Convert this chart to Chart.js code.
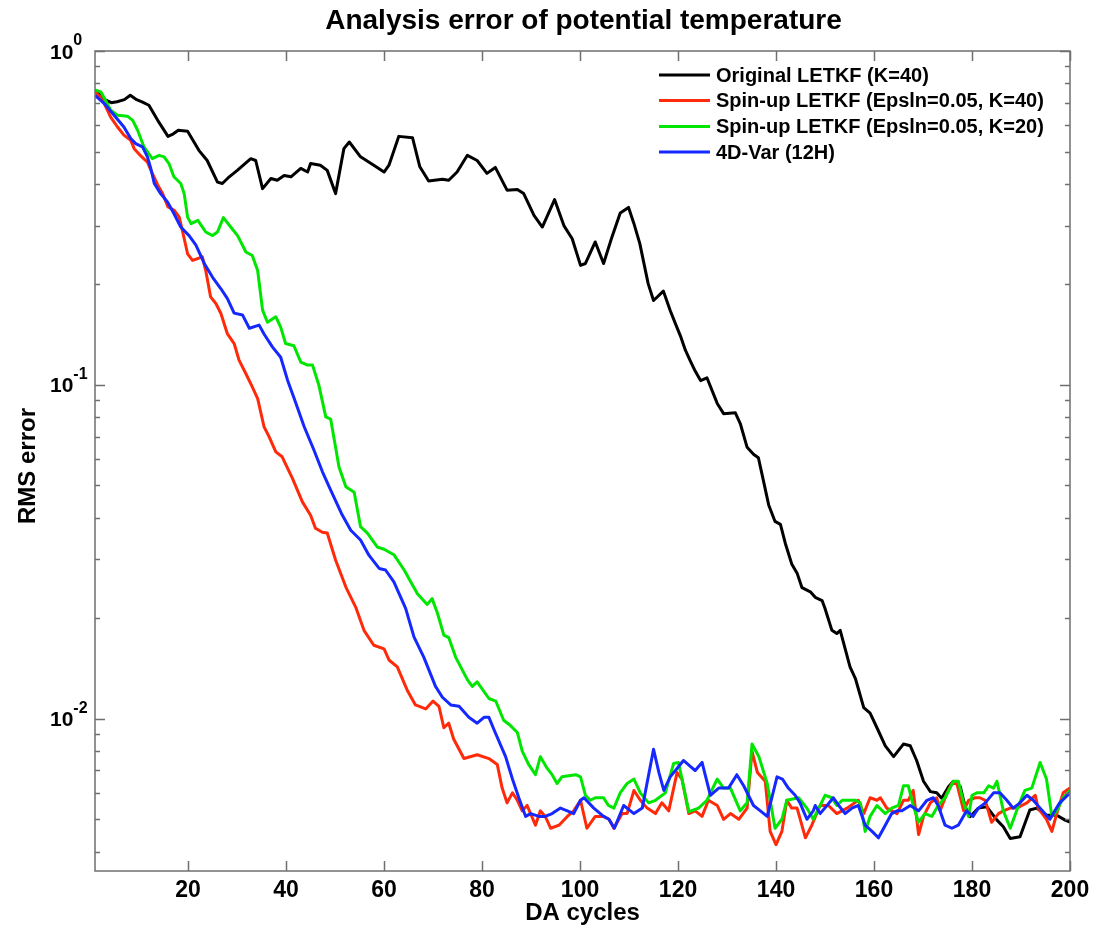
<!DOCTYPE html>
<html>
<head>
<meta charset="utf-8">
<script src="https://cdn.jsdelivr.net/npm/chart.js@4/dist/chart.umd.min.js"></script>
<style>
html,body{margin:0;padding:0;background:#fff;}
canvas{display:block;}
</style>
</head>
<body>
<canvas id="c" width="1093" height="928"></canvas>
<script>
// ---- chart text ----
const chartTitle = "Analysis error of potential temperature";
const xTitle = "DA cycles";
const yTitle = "RMS error";
const seriesLabels = ["Original LETKF (K=40)", "Spin-up LETKF (Epsln=0.05, K=40)", "Spin-up LETKF (Epsln=0.05, K=20)", "4D-Var (12H)"];
const xTickValues = [20, 40, 60, 80, 100, 120, 140, 160, 180, 200];
const yMajorTicks = [1, 0.1, 0.01];
const yMajorExp = ["0", "-1", "-2"];

// ---- series values: [DA cycle, RMS error] ----
const originalLETKF = [[1,0.76],[2,0.74],[3,0.715],[4.3,0.70],[5.5,0.705],[7,0.715],[8.2,0.737],[9.5,0.715],[10.7,0.703],[12,0.688],[13.8,0.62],[15.9,0.555],[17,0.565],[18,0.579],[19.9,0.575],[22.2,0.504],[23.9,0.47],[26,0.405],[27,0.401],[28.4,0.42],[30.1,0.44],[32.8,0.476],[33.8,0.47],[35.2,0.387],[36.9,0.415],[38.2,0.41],[39.6,0.424],[41,0.42],[43,0.445],[44.4,0.434],[45,0.46],[47,0.455],[48.4,0.439],[50.1,0.374],[51.8,0.51],[52.9,0.534],[55.2,0.482],[57.9,0.455],[60,0.434],[61,0.455],[63,0.555],[65.8,0.55],[67.3,0.45],[69.1,0.408],[71.9,0.413],[73.2,0.41],[74.9,0.434],[77,0.487],[79,0.47],[81,0.43],[82.7,0.448],[85.1,0.383],[87.2,0.385],[88.5,0.374],[90.6,0.322],[92.3,0.297],[94.8,0.359],[96.7,0.30],[98.4,0.274],[100.1,0.228],[101.1,0.231],[103.1,0.268],[104.8,0.231],[106.5,0.277],[108.2,0.327],[109.9,0.34],[111,0.304],[112.2,0.265],[113.9,0.201],[115,0.179],[117,0.191],[118.4,0.167],[119.5,0.152],[120.5,0.14],[121.5,0.127],[122.5,0.118],[123.5,0.11],[124.6,0.103],[125.9,0.105],[128,0.088],[129.3,0.082],[131.7,0.0825],[132.7,0.0766],[134.1,0.065],[135.4,0.062],[136.4,0.0605],[137.1,0.0543],[138.5,0.0437],[139.8,0.039],[140.9,0.0382],[141.9,0.0335],[143.2,0.0291],[144.3,0.0273],[145.3,0.0247],[147,0.024],[148,0.0231],[149.4,0.0226],[150,0.0214],[151.4,0.0184],[152.4,0.018],[153.1,0.0184],[155.1,0.0143],[156.2,0.0132],[157.9,0.0108],[159.2,0.0104],[160.6,0.0094],[162.3,0.0083],[164,0.0077],[166,0.0084],[167.4,0.0083],[168.7,0.0075],[170.1,0.0065],[171.5,0.00605],[172.8,0.006],[173.8,0.00578],[175.2,0.00626],[176.2,0.0065],[177.6,0.00626],[178.6,0.00545],[179.6,0.00509],[181.3,0.0054],[183,0.00545],[185.1,0.00497],[186.4,0.00475],[187.8,0.00438],[189.8,0.00443],[191.8,0.00533],[193.2,0.0054],[195.2,0.00514],[197.3,0.00514],[199,0.00497],[200,0.0049]];

const spinupK40 = [[1,0.755],[2,0.73],[2.9,0.696],[4.2,0.634],[5.6,0.592],[6.9,0.56],[8.3,0.54],[9,0.51],[10.4,0.484],[11.7,0.465],[12.7,0.43],[13.8,0.397],[14.8,0.374],[15.9,0.341],[17.1,0.334],[18.2,0.318],[18.9,0.287],[19.9,0.247],[20.9,0.236],[22,0.239],[22.9,0.242],[23.6,0.22],[24.6,0.1834],[25.7,0.175],[26.7,0.1636],[28,0.1425],[29.4,0.133],[30.4,0.1186],[31.8,0.108],[33.1,0.0986],[34.2,0.091],[35.5,0.0749],[36.5,0.0701],[37.9,0.063],[39.2,0.0609],[41.3,0.0525],[43.3,0.0447],[45,0.0407],[46,0.0372],[47.4,0.0362],[48.4,0.036],[50.1,0.0299],[52.2,0.0248],[54.2,0.0216],[55.9,0.0184],[57.9,0.0166],[60,0.0162],[61,0.015],[62.7,0.0143],[64.7,0.0122],[66.4,0.011],[68.5,0.0107],[70,0.0113],[71.2,0.0109],[72.2,0.0094],[73.2,0.0097],[74.2,0.0087],[76.3,0.0076],[79,0.0078],[81.4,0.0076],[83.1,0.0073],[84.1,0.0062],[85.1,0.0056],[86.2,0.006],[87.2,0.0057],[88.2,0.0053],[89.2,0.0055],[90.9,0.0048],[91.9,0.0053],[92.9,0.0051],[94,0.0047],[95.7,0.0048],[97.4,0.0051],[98.7,0.0053],[100.1,0.0057],[101.4,0.0047],[103.1,0.0051],[104.8,0.0051],[105.9,0.005],[106.9,0.0047],[108.6,0.0052],[109.6,0.0052],[111,0.0061],[112.3,0.0057],[113.7,0.0054],[115.4,0.0052],[116.7,0.0056],[118.1,0.0053],[119.8,0.0069],[120.8,0.0066],[122.2,0.0052],[123.5,0.0053],[124.9,0.0051],[126.2,0.0057],[128,0.0055],[129.3,0.005],[130.7,0.0052],[132.4,0.005],[134.1,0.0054],[135.1,0.008],[136.2,0.0069],[137.8,0.0065],[138.8,0.0046],[140,0.0042],[141.2,0.0046],[142.2,0.0057],[143.2,0.0054],[144.3,0.0054],[146,0.0044],[147.3,0.0048],[149,0.0055],[150.7,0.0055],[152.4,0.0052],[154.5,0.0054],[156.8,0.0057],[157.9,0.0052],[159.2,0.0058],[160.6,0.0057],[161.3,0.0058],[162.6,0.0054],[164.7,0.0052],[166,0.0057],[167,0.0057],[168,0.0061],[169.1,0.0045],[170.1,0.0051],[171.5,0.0056],[172.8,0.0058],[173.5,0.0053],[174.9,0.006],[175.9,0.0064],[176.9,0.0064],[178.3,0.0053],[179.3,0.0057],[180.6,0.0058],[181.6,0.0058],[182.7,0.0057],[184,0.0049],[185.4,0.0052],[186.4,0.0053],[187.8,0.0054],[189.1,0.0054],[191.2,0.0056],[192.9,0.0059],[193.5,0.0054],[195.2,0.005],[196.3,0.0046],[197.3,0.0052],[198.6,0.006],[200,0.0062]];

const spinupK20 = [[1,0.765],[2.2,0.754],[3.2,0.71],[4.2,0.665],[5.6,0.642],[7.6,0.638],[8.7,0.62],[9.7,0.579],[11,0.516],[12.7,0.476],[14.1,0.487],[15.1,0.482],[16.1,0.46],[17.1,0.42],[18.5,0.401],[19.2,0.374],[19.9,0.318],[20.6,0.304],[22,0.311],[23.6,0.287],[25,0.28],[26,0.287],[27.2,0.317],[28.7,0.297],[30.1,0.28],[31.8,0.25],[33.1,0.244],[34.2,0.22],[35.2,0.1674],[36.2,0.154],[37.9,0.16],[38.9,0.149],[39.9,0.133],[41.6,0.131],[43,0.117],[44.4,0.1146],[45.4,0.1146],[46.7,0.0997],[48.1,0.0802],[49.1,0.079],[50.8,0.0568],[52.2,0.0495],[53.9,0.0477],[55.2,0.0376],[56.6,0.036],[58.6,0.0327],[60,0.0322],[62,0.031],[64.1,0.0279],[66.8,0.0237],[68.8,0.022],[69.8,0.0229],[70.9,0.0207],[72.2,0.0178],[73.2,0.0175],[74.6,0.0153],[77,0.0131],[78,0.0125],[79,0.0129],[81.4,0.0115],[82.8,0.0113],[84.4,0.0099],[85.6,0.0096],[87.2,0.0091],[88.2,0.008],[89.5,0.0073],[90.9,0.0068],[91.9,0.0077],[93.3,0.0071],[94.3,0.0068],[95.3,0.0064],[96.3,0.0067],[99.1,0.0068],[100.1,0.0067],[101.1,0.0059],[102.1,0.0057],[103.1,0.0058],[104.8,0.0058],[105.8,0.0055],[106.9,0.0054],[108.2,0.006],[109.6,0.0064],[111,0.0066],[112.3,0.006],[114,0.0056],[115.4,0.0057],[117.4,0.006],[119.1,0.00735],[120.1,0.0074],[122.2,0.00527],[124.2,0.0054],[125.9,0.0057],[128,0.0066],[129.3,0.0062],[130.7,0.0062],[132.7,0.0053],[134.1,0.0056],[135.1,0.0084],[136.5,0.0077],[138.2,0.0064],[139.8,0.0047],[141.2,0.005],[142.2,0.0057],[144.6,0.0058],[146.3,0.0054],[147.6,0.005],[149,0.0055],[150,0.0059],[151.4,0.0058],[152.4,0.0055],[153.5,0.0057],[154.8,0.0057],[156.2,0.0057],[157.2,0.0056],[158.2,0.0046],[159.2,0.0051],[160.6,0.0055],[162.3,0.0052],[163.6,0.0054],[165,0.0055],[166,0.0063],[167,0.0063],[168,0.0055],[169.1,0.0049],[170.4,0.0052],[171.8,0.0051],[173.1,0.0055],[174.5,0.0058],[176.2,0.0065],[177.2,0.0065],[178.3,0.0056],[179.3,0.0051],[180,0.0059],[181,0.006],[182.4,0.006],[183.4,0.0063],[184.4,0.0062],[185.1,0.0065],[186.4,0.0053],[187.8,0.0047],[189.5,0.0055],[190.8,0.0061],[192.2,0.0062],[193.9,0.0074],[195.2,0.0066],[196.3,0.0051],[197.3,0.0053],[198.6,0.0058],[200,0.0061]];

const fourDVar = [[1,0.737],[2.9,0.696],[4.9,0.642],[6.9,0.592],[8.3,0.547],[9.3,0.528],[10.7,0.516],[11.7,0.482],[12.4,0.444],[13.1,0.401],[14.4,0.374],[15.8,0.353],[17.1,0.326],[18.5,0.297],[20.2,0.28],[21.6,0.262],[23.3,0.231],[25,0.21],[26.7,0.194],[28,0.1815],[29.4,0.164],[31.1,0.162],[32.5,0.1478],[34.5,0.151],[35.5,0.142],[37.2,0.13],[38.9,0.121],[40.3,0.1033],[41.6,0.0915],[43.7,0.0749],[45.7,0.0637],[47.4,0.055],[48.8,0.0495],[51.3,0.0412],[53.2,0.0367],[55.2,0.0343],[56.9,0.0309],[59,0.0282],[60.3,0.0279],[62,0.0257],[64.4,0.0214],[66.1,0.0176],[68.1,0.0153],[70.5,0.0125],[71.9,0.0116],[73.6,0.011],[75.3,0.0109],[77.3,0.0101],[79,0.0097],[80.4,0.0101],[81.4,0.0101],[82.4,0.0093],[84.8,0.0077],[86.2,0.0066],[87.5,0.0058],[88.9,0.0051],[89.9,0.0052],[91.6,0.0051],[92.9,0.0051],[94.3,0.0052],[96,0.0054],[97.4,0.0053],[98.7,0.0052],[100.1,0.0057],[100.8,0.0058],[102.8,0.0054],[104.8,0.0051],[105.9,0.005],[107,0.0047],[108.9,0.0055],[111,0.0052],[112.7,0.0054],[115,0.0081],[116.1,0.0069],[117.1,0.0061],[118.4,0.0067],[119.8,0.0071],[121.1,0.0075],[122.5,0.0072],[123.5,0.007],[124.9,0.0074],[126.6,0.0059],[128.3,0.0062],[130.3,0.0062],[132,0.0068],[133.4,0.0063],[135.4,0.0055],[136.8,0.0053],[138.2,0.0051],[140.2,0.0067],[141.3,0.0066],[142.5,0.0062],[143.9,0.0059],[144.9,0.0056],[146.3,0.005],[147.6,0.0053],[148,0.0055],[149,0.0052],[150.4,0.0055],[151.7,0.0058],[152.8,0.0055],[154.1,0.0052],[155.5,0.0054],[156.8,0.0055],[158.2,0.0048],[159.6,0.0046],[160.9,0.0044],[162.3,0.0048],[163.6,0.0052],[164.7,0.0053],[165.7,0.0053],[167.4,0.0055],[169.1,0.0053],[170.8,0.0057],[172.1,0.0058],[173.1,0.0055],[174.5,0.0048],[175.9,0.0047],[177.2,0.0048],[178.9,0.0053],[180.2,0.0051],[181.3,0.0054],[182.7,0.0056],[184.4,0.006],[185.7,0.006],[187.1,0.0057],[188.4,0.0054],[189.8,0.0056],[191.2,0.0059],[192.5,0.0057],[193.9,0.0054],[195.9,0.005],[196.9,0.0053],[197.9,0.0056],[200,0.006]];

const seriesColors = ["#000000", "#ff2a0a", "#00e600", "#1428ff"];

const FONT = '"Liberation Sans", Arial, Helvetica, sans-serif';
const toXY = arr => arr.map(p => ({x: p[0], y: p[1]}));

const axesPlugin = {
  id: 'axesDecor',
  afterDraw(chart) {
    const ctx = chart.ctx;
    const a = chart.chartArea;
    const xs = chart.scales.x, ys = chart.scales.y;
    ctx.save();
    // frame
    ctx.strokeStyle = '#6f6f6f';
    ctx.lineWidth = 1.5;
    ctx.strokeRect(a.left, a.top, a.right - a.left, a.bottom - a.top);
    // x ticks (bottom & top, inward)
    ctx.beginPath();
    xTickValues.forEach(v => {
      const px = Math.round(xs.getPixelForValue(v)) + 0.5;
      ctx.moveTo(px, a.bottom); ctx.lineTo(px, a.bottom - 10);
      ctx.moveTo(px, a.top); ctx.lineTo(px, a.top + 10);
    });
    // y ticks (major & minor, left & right, inward)
    for (let e = -3; e <= 0; e++) {
      for (let m = 1; m <= 9; m++) {
        const v = m * Math.pow(10, e);
        if (v < ys.min - 1e-12 || v > ys.max + 1e-12) continue;
        const py = Math.round(ys.getPixelForValue(v)) + 0.5;
        const len = (m === 1) ? 10 : 5;
        ctx.moveTo(a.left, py); ctx.lineTo(a.left + len, py);
        ctx.moveTo(a.right, py); ctx.lineTo(a.right - len, py);
      }
    }
    ctx.stroke();

    ctx.fillStyle = '#000';
    // x tick labels
    ctx.font = 'bold 23px ' + FONT;
    ctx.textAlign = 'center';
    ctx.textBaseline = 'alphabetic';
    xTickValues.forEach(v => {
      ctx.fillText(String(v), xs.getPixelForValue(v), 897);
    });
    // y tick labels 10^n
    yMajorTicks.forEach((v, i) => {
      const py = ys.getPixelForValue(v);
      ctx.textAlign = 'left';
      ctx.font = 'bold 21px ' + FONT;
      ctx.fillText('10', 50, py + 7.5);
      const w = ctx.measureText('10').width;
      ctx.font = 'bold 16px ' + FONT;
      ctx.fillText(yMajorExp[i], 50 + w, py - 6);
    });
    // title
    ctx.textAlign = 'center';
    ctx.font = 'bold 28px ' + FONT;
    ctx.fillText(chartTitle, (a.left + a.right) / 2 + 1, 29);
    // x title
    ctx.font = 'bold 24px ' + FONT;
    ctx.fillText(xTitle, (a.left + a.right) / 2, 920);
    // y title
    ctx.save();
    ctx.translate(35, 466);
    ctx.rotate(-Math.PI / 2);
    ctx.font = 'bold 24px ' + FONT;
    ctx.fillText(yTitle, 0, 0);
    ctx.restore();
    // legend
    const rowsY = [75, 100.5, 126.5, 152];
    ctx.font = 'bold 20px ' + FONT;
    ctx.textAlign = 'left';
    ctx.textBaseline = 'middle';
    chart.data.datasets.forEach((ds, i) => {
      const y = rowsY[i];
      ctx.strokeStyle = ds.borderColor;
      ctx.lineWidth = 3;
      ctx.beginPath();
      ctx.moveTo(659, y); ctx.lineTo(710, y);
      ctx.stroke();
      ctx.fillText(ds.label, 716, y + 1);
    });
    ctx.restore();
  }
};

const datasetsSrc = [originalLETKF, spinupK40, spinupK20, fourDVar];
const drawOrder = [3, 2, 1, 0];

new Chart(document.getElementById('c'), {
  type: 'line',
  data: {
    datasets: datasetsSrc.map((arr, i) => ({
      label: seriesLabels[i],
      data: toXY(arr),
      borderColor: seriesColors[i],
      backgroundColor: seriesColors[i],
      borderWidth: 3,
      pointRadius: 0,
      fill: false,
      tension: 0,
      order: drawOrder[i],
      borderJoinStyle: 'round'
    }))
  },
  options: {
    responsive: false,
    animation: false,
    devicePixelRatio: 1,
    layout: { padding: { left: 95, top: 51, right: 23, bottom: 57 } },
    plugins: { legend: { display: false }, tooltip: { enabled: false }, title: { display: false } },
    scales: {
      x: { type: 'linear', min: 1, max: 200, display: false },
      y: { type: 'logarithmic', min: 0.0035, max: 1, display: false }
    }
  },
  plugins: [axesPlugin]
});
</script>
</body>
</html>
